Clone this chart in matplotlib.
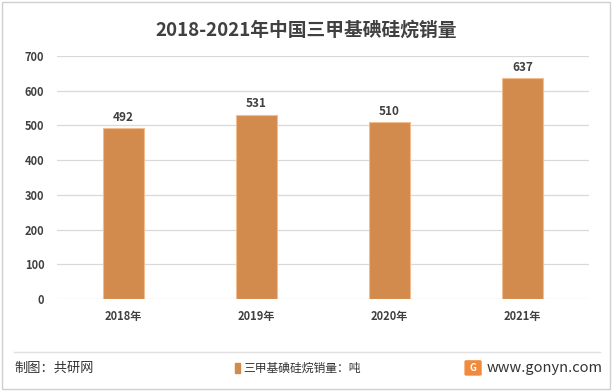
import matplotlib.pyplot as plt
from matplotlib.patches import Rectangle, FancyBboxPatch

plt.rcParams['font.family'] = ['Noto Sans CJK SC', 'DejaVu Sans']

years = ['2018年', '2019年', '2020年', '2021年']
sales = [492, 531, 510, 637]
title = '2018-2021年中国三甲基碘硅烷销量'
legend_label = '三甲基碘硅烷销量：吨'

bar_color = '#D38B4D'
text_color = '#404040'

fig = plt.figure(figsize=(6.12, 3.91), dpi=100)
ax = fig.add_axes([0.0931, 0.2353, 0.8693, 0.6215])

x = range(len(years))
bars = ax.bar(x, sales, width=0.315, color=bar_color, edgecolor='#F2BE90', linewidth=0.8, zorder=3)
for xi, v in zip(x, sales):
    ax.text(xi, v + 12, str(v), ha='center', va='bottom', fontsize=8.5,
            fontweight='bold', color=text_color)

ax.set_xlim(-0.5, len(years) - 0.5)
ax.set_ylim(0, 700)
ax.set_yticks(range(0, 701, 100))
ax.set_xticks(list(x))
ax.set_xticklabels(years, fontsize=8, fontweight='bold', color=text_color)
ax.tick_params(axis='y', labelsize=8, colors=text_color, length=0, pad=9)
ax.tick_params(axis='x', length=0, pad=8)
for lbl in ax.get_yticklabels():
    lbl.set_fontweight('bold')
ax.grid(axis='y', color='#D9D9D9', linewidth=0.9, zorder=0)
for s in ax.spines.values():
    s.set_visible(False)

fig.text(0.5, 0.923, title, ha='center', va='center', fontsize=13.5,
         fontweight='bold', color=text_color)

# outer border and footer separator
fig.patches.append(Rectangle((0.004, 0.005), 0.992, 0.99, transform=fig.transFigure,
                             fill=False, edgecolor='#D0D0D0', linewidth=1))
fig.add_artist(plt.Line2D([0.023, 0.98], [0.1, 0.1], transform=fig.transFigure,
                          color='#E0E0E0', linewidth=1))

fig.text(0.023, 0.058, '制图：共研网', ha='left', va='center', fontsize=9.5, color='#333333')
fig.patches.append(Rectangle((0.3835, 0.047), 0.008, 0.024, transform=fig.transFigure,
                             color=bar_color))
fig.text(0.397, 0.058, legend_label, ha='left', va='center', fontsize=8.5, color='#333333')
fig.patches.append(FancyBboxPatch((0.762, 0.043), 0.022, 0.032, boxstyle='round,pad=0.002',
                                  transform=fig.transFigure, color='#F08A3C'))
fig.text(0.773, 0.059, 'G', ha='center', va='center', fontsize=7, fontweight='bold', color='white')
fig.text(0.795, 0.06, 'www.gonyn.com', ha='left', va='center', fontsize=10.5, color='#333333')

fig.savefig('out.png', dpi=100)
